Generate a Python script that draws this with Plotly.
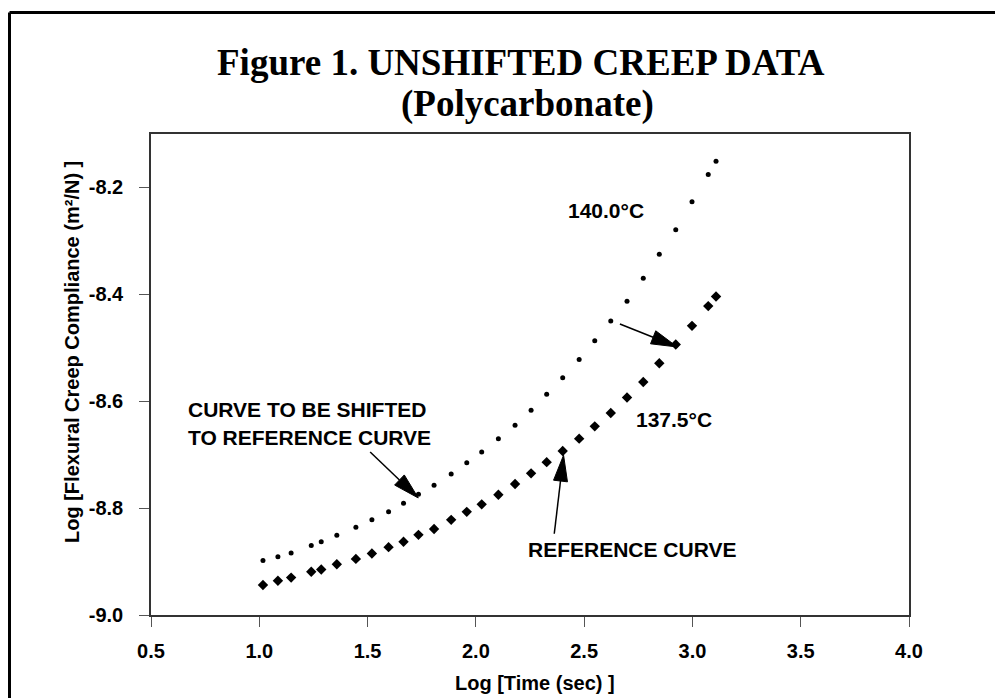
import numpy as np
import plotly.graph_objects as go

# ---------------- data ----------------
log_time = [1.017, 1.086, 1.147, 1.240, 1.286, 1.358, 1.446, 1.520, 1.597, 1.666,
            1.735, 1.807, 1.886, 1.958, 2.027, 2.104, 2.181, 2.255, 2.327, 2.401,
            2.477, 2.549, 2.623, 2.698, 2.773, 2.847, 2.923, 2.998, 3.073, 3.109]
comp_140 = [-8.898, -8.891, -8.884, -8.870, -8.863, -8.851, -8.836, -8.822, -8.807, -8.791,
            -8.774, -8.757, -8.736, -8.715, -8.695, -8.670, -8.645, -8.617, -8.587, -8.556,
            -8.522, -8.487, -8.450, -8.413, -8.370, -8.325, -8.279, -8.227, -8.176, -8.151]
comp_1375 = [-8.944, -8.936, -8.930, -8.919, -8.915, -8.905, -8.895, -8.885, -8.873, -8.863,
             -8.850, -8.839, -8.822, -8.807, -8.793, -8.775, -8.755, -8.735, -8.714, -8.693,
             -8.670, -8.647, -8.622, -8.593, -8.564, -8.529, -8.494, -8.459, -8.422, -8.404]

x_tickvals = [0.5, 1.0, 1.5, 2.0, 2.5, 3.0, 3.5, 4.0]
x_ticktext = ["0.5", "1.0", "1.5", "2.0", "2.5", "3.0", "3.5", "4.0"]
y_tickvals = [-9.0, -8.8, -8.6, -8.4, -8.2]
y_ticktext = ["-9.0", "-8.8", "-8.6", "-8.4", "-8.2"]

title_line1 = "Figure 1. UNSHIFTED CREEP DATA"
title_line2 = "(Polycarbonate)"
x_title = "Log [Time (sec) ]"
y_title = "Log [Flexural Creep Compliance (m\u00b2/N) ]"

# ---------------- layout geometry ----------------
W, H = 995, 698
ML, MR, MT, MB = 151, 86, 134, 83
PW, PH = W - ML - MR, H - MT - MB
XR = [0.5, 4.0]
YR = [-9.0, -8.1]
SX = PW / (XR[1] - XR[0])
SY = PH / (YR[1] - YR[0])

def px2paper(px, py):
    return (px - ML) / PW, (H - MB - py) / PH

SANS = "Liberation Sans, Arial, sans-serif"
SERIF = "Liberation Serif, Times New Roman, serif"

fig = go.Figure()
fig.add_trace(go.Scatter(x=log_time, y=comp_140, mode="markers",
                         marker=dict(symbol="circle", size=5, color="black"),
                         name="140.0°C", showlegend=False))
fig.add_trace(go.Scatter(x=log_time, y=comp_1375, mode="markers",
                         marker=dict(symbol="diamond", size=8, color="black"),
                         name="137.5°C", showlegend=False))

shapes = []
# outer frame: only left and top edges are visible (cropped on right/bottom)
fx0, fy1 = px2paper(9.5, 12.5)
fxr, fyb = px2paper(1100, 800)
shapes.append(dict(type="line", xref="paper", yref="paper", x0=fx0, y0=fyb,
                   x1=fx0, y1=fy1, line=dict(color="black", width=3)))
shapes.append(dict(type="line", xref="paper", yref="paper", x0=fx0, y0=fy1,
                   x1=fxr, y1=fy1, line=dict(color="black", width=3)))

def arrow(tail, tip, L=26.0, hw=7.0):
    # tail/tip in data coords; head built in pixel space then mapped back
    tx, ty = (tail[0] - XR[0]) * SX, (tail[1] - YR[0]) * SY
    hx, hy = (tip[0] - XR[0]) * SX, (tip[1] - YR[0]) * SY
    d = np.array([hx - tx, hy - ty])
    d = d / np.linalg.norm(d)
    n = np.array([-d[1], d[0]])
    base = np.array([hx, hy]) - d * L
    p1 = base + n * hw
    p2 = base - n * hw
    to_d = lambda p: (p[0] / SX + XR[0], p[1] / SY + YR[0])
    b = to_d(base); q1 = to_d(p1); q2 = to_d(p2)
    shapes.append(dict(type="line", xref="x", yref="y", x0=tail[0], y0=tail[1],
                       x1=b[0], y1=b[1], line=dict(color="black", width=1.5)))
    shapes.append(dict(type="path", xref="x", yref="y",
                       path=f"M{tip[0]},{tip[1]} L{q1[0]},{q1[1]} L{q2[0]},{q2[1]} Z",
                       fillcolor="black", line=dict(color="black", width=1)))

arrow((1.512, -8.695), (1.734, -8.781))
arrow((2.665, -8.4555), (2.930, -8.4985))
arrow((2.362, -8.848), (2.405, -8.701))

annotations = []
def text(px, py, s, size=21, family=SANS, xanchor="center", angle=0):
    xp, yp = px2paper(px, py)
    annotations.append(dict(xref="paper", yref="paper", x=xp, y=yp, text=s,
                            showarrow=False, xanchor=xanchor, yanchor="middle",
                            textangle=angle,
                            font=dict(family=family, size=size, color="black", weight="bold")))

text(520.5, 63, title_line1, size=37, family=SERIF)
text(527, 104, title_line2, size=37, family=SERIF)
text(605.5, 210, "140.0°C")
text(674, 420, "137.5°C")
text(186, 409, "CURVE TO BE SHIFTED", xanchor="left")
text(186, 437, "TO REFERENCE CURVE", xanchor="left")
text(632, 549, "REFERENCE CURVE")
text(535, 683, x_title, size=20)
text(72, 352, y_title, size=20, angle=-90)

axis_common = dict(showline=True, linecolor="#333333", linewidth=1.5, mirror=True,
                   ticks="outside", ticklen=10, tickwidth=1.2, tickcolor="#555555",
                   showgrid=False, zeroline=False,
                   tickfont=dict(family=SANS, size=20, color="black", weight="bold"))

fig.update_layout(
    width=W, height=H, autosize=False,
    margin=dict(l=ML, r=MR, t=MT, b=MB, pad=0),
    paper_bgcolor="white", plot_bgcolor="white",
    showlegend=False,
    xaxis=dict(range=XR, tickmode="array", tickvals=x_tickvals, ticktext=x_ticktext,
               ticklabelstandoff=7, **axis_common),
    yaxis=dict(range=YR, tickmode="array", tickvals=y_tickvals, ticktext=y_ticktext,
               ticklabelstandoff=12, **axis_common),
    shapes=shapes,
    annotations=annotations,
)

fig.write_html("out.html", config={"displayModeBar": False})
